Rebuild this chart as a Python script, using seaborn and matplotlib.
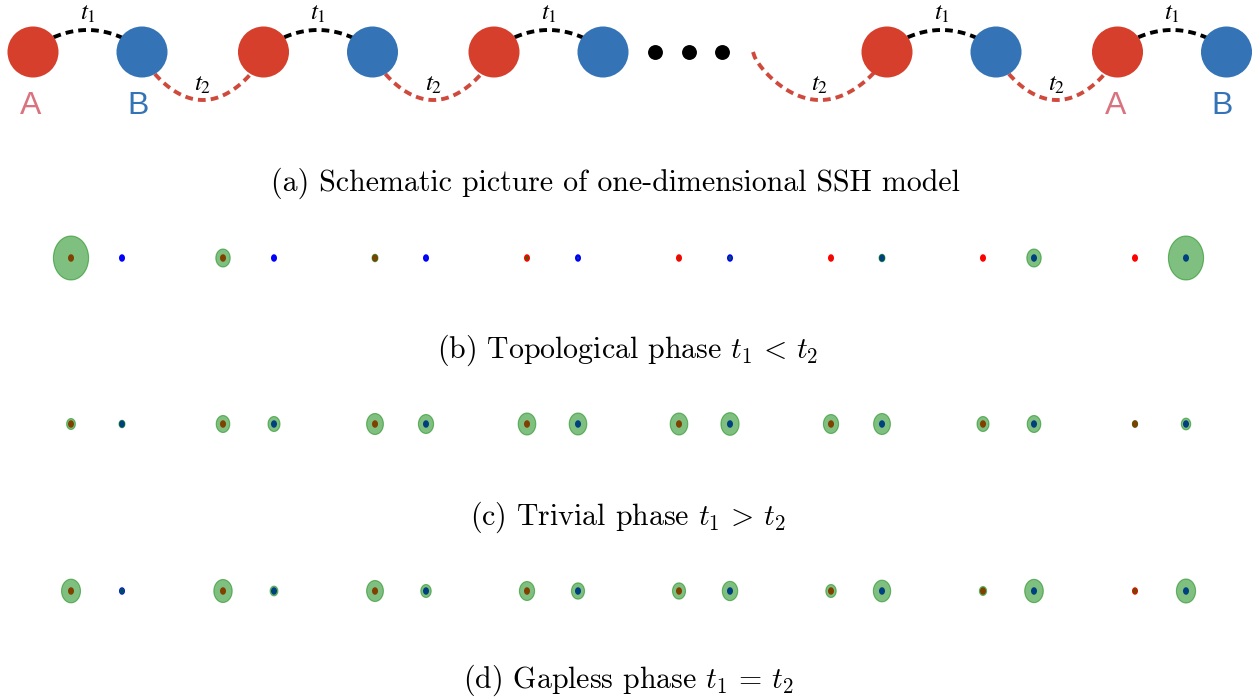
import numpy as np
import pandas as pd
import matplotlib
matplotlib.use("Agg")
import matplotlib.pyplot as plt
import seaborn as sns
from matplotlib.path import Path

# ---- (a) schematic chain: unit-cell positions (cells) ----
chain_cells = [0, 1, 2, 3.705, 4.705]
dots_cells = [2.7, 2.845, 2.99]   # the "..." between cells

# ---- (b)-(d) site weights |psi|^2 per unit cell (A and B sublattice) ----
cells = [1, 2, 3, 4, 5, 6, 7, 8]

topo_a = [1.0, 0.167, 0.029, 0.0046, 0.0007, 0.0001, 0.00002, 0.000005]
topo_b = [0.000005, 0.00002, 0.0001, 0.0007, 0.0046, 0.029, 0.167, 1.0]

triv_a = [0.0625, 0.149, 0.228, 0.25, 0.25, 0.186, 0.116, 0.022]
triv_b = [0.029, 0.116, 0.186, 0.25, 0.266, 0.228, 0.149, 0.071]

gapl_a = [0.29, 0.273, 0.228, 0.186, 0.137, 0.087, 0.042, 0.010]
gapl_b = [0.013, 0.049, 0.087, 0.137, 0.192, 0.243, 0.28, 0.298]

captions = [
    "(a) Schematic picture of one-dimensional SSH model",
    r"(b) Topological phase $t_1 \,<\, t_2$",
    r"(c) Trivial phase $t_1 \,>\, t_2$",
    r"(d) Gapless phase $t_1 \,=\, t_2$",
]

RED = "#d63f2b"
BLUE = "#3474b6"
T2_RED = "#cf4a3c"

sns.set_style("white")

fig = plt.figure(figsize=(12.55, 6.98), dpi=100)
ax = fig.add_axes([0, 0, 1, 1])
ax.set_xlim(0, 1255)
ax.set_ylim(698, 0)
ax.axis("off")

# ---------- schematic ----------
yc = 52
a_x = 33 + 230.5 * np.array(chain_cells)
b_x = a_x + 109
chain = pd.DataFrame({"x": np.r_[a_x, b_x], "y": yc,
                      "sub": ["A"] * len(a_x) + ["B"] * len(b_x)})
sns.scatterplot(data=chain, x="x", y="y", hue="sub",
                palette={"A": RED, "B": BLUE}, s=1350, linewidth=0,
                legend=False, ax=ax, zorder=3)

dots = pd.DataFrame({"x": 33 + 230.5 * np.array(dots_cells), "y": yc})
sns.scatterplot(data=dots, x="x", y="y", color="black", s=115,
                linewidth=0, ax=ax, zorder=3)


def bond(x0, x1, h):
    xs = np.linspace(x0, x1, 80)
    u = (xs - x0) / (x1 - x0)
    return xs, yc + h * np.sin(np.pi * u) ** 0.7


dash = (0, (2.0, 1.3))
for xa, xb in zip(a_x, b_x):
    xs, ys = bond(xa, xb, -22)
    ax.plot(xs, ys, color="black", lw=2.8, ls=dash, zorder=1)
    ax.text((xa + xb) / 2, 13, "$t_1$", fontsize=18, math_fontfamily="stix",
            ha="center", va="center", color="black")

t2_pairs = [(b_x[0], a_x[1]), (b_x[1], a_x[2]), (b_x[2] + 150, a_x[3]),
            (b_x[3], a_x[4])]
for x0, x1 in t2_pairs:
    xs, ys = bond(x0, x1, 48)
    ax.plot(xs, ys, color=T2_RED, lw=2.8, ls=dash, zorder=1)
    ax.text((x0 + x1) / 2, 84, "$t_2$", fontsize=18, math_fontfamily="stix",
            ha="center", va="center", color="black")

for xs_, lab, col in [(a_x[0] - 2, "A", "#d9737f"), (b_x[0] - 4, "B", BLUE),
                      (a_x[-1] - 2, "A", "#d9737f"), (b_x[-1] - 4, "B", BLUE)]:
    ax.text(xs_, 106, lab, fontsize=23, color=col, family="Liberation Sans",
            ha="center", va="center")

# ---------- site rows ----------
theta = np.linspace(0, 2 * np.pi, 73)
ell_verts = np.column_stack([0.8 * np.cos(theta), np.sin(theta)])
ell = Path(ell_verts, closed=True)

S_MAX = 1003
rows = [(258, topo_a, topo_b), (424, triv_a, triv_b), (591, gapl_a, gapl_b)]
for y_row, wa, wb in rows:
    xa = 71 + 152 * (np.array(cells) - 1)
    df = pd.DataFrame({"x": np.r_[xa, xa + 51], "y": y_row,
                       "sub": ["A"] * 8 + ["B"] * 8,
                       "w": np.r_[wa, wb]})
    sns.scatterplot(data=df, x="x", y="y", hue="sub",
                    palette={"A": "#ff0000", "B": "#0000ff"}, s=29,
                    marker=ell, linewidth=0, legend=False, ax=ax, zorder=2)
    sns.scatterplot(data=df, x="x", y="y", color="green", alpha=0.5,
                    s=S_MAX * df["w"].to_numpy(), marker=ell,
                    edgecolor="green", linewidth=0.8, legend=False, ax=ax,
                    zorder=3)

# ---------- captions ----------
for (cx, cy), txt in zip([(615, 183), (628, 350), (628, 517), (628, 680)],
                         captions):
    ax.text(cx, cy, txt, fontsize=21.5, family="cmr10", math_fontfamily="cm",
            ha="center", va="center", color="black")

fig.savefig("out.png", dpi=100)
